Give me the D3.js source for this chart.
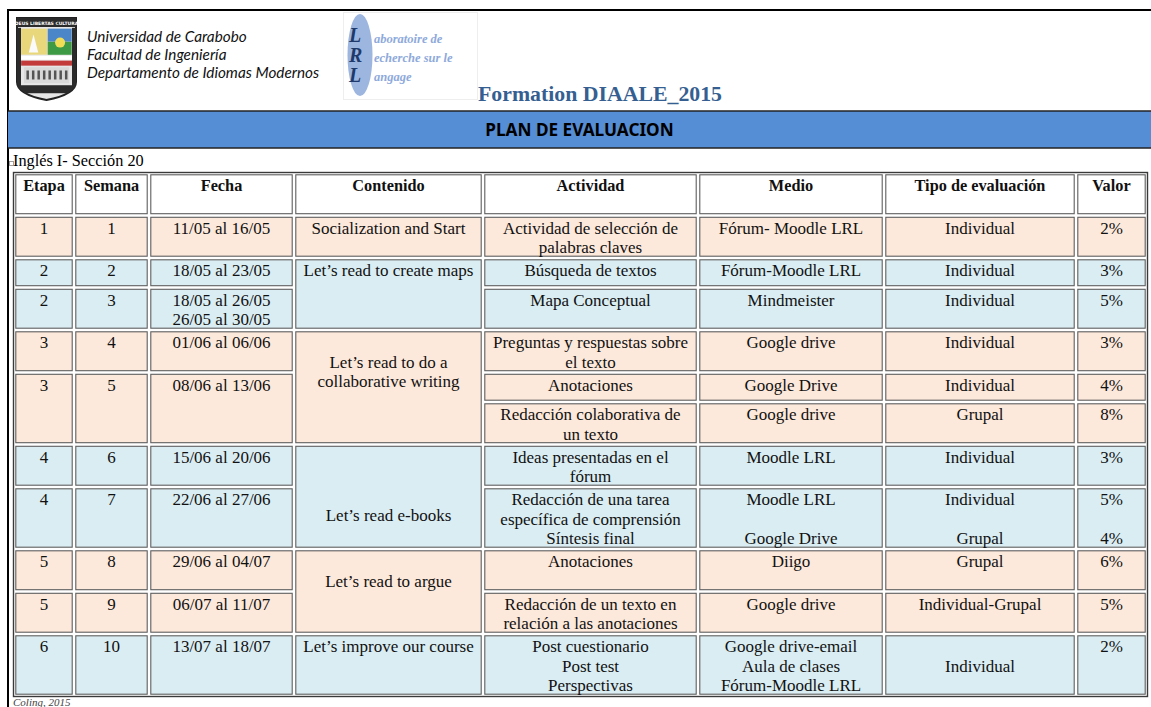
<!DOCTYPE html>
<html><head><meta charset="utf-8">
<script src="https://cdn.jsdelivr.net/npm/d3@7"></script>
<style>body{margin:0;background:#fff}svg{display:block}</style>
</head><body>
<svg id="c" width="1151" height="707"></svg>
<script>
// ---------- DATA ----------
const headers = ["Etapa","Semana","Fecha","Contenido","Actividad","Medio","Tipo de evaluación","Valor"];
const etapa   = ["1","2","2","3","3","4","4","5","5","6"];
const semana  = ["1","2","3","4","5","6","7","8","9","10"];
const fecha   = [["11/05 al 16/05"],["18/05 al 23/05"],["18/05 al 26/05","26/05 al 30/05"],["01/06 al 06/06"],["08/06 al 13/06"],["15/06 al 20/06"],["22/06 al 27/06"],["29/06 al 04/07"],["06/07 al 11/07"],["13/07 al 18/07"]];
const contenido = [["Socialization and Start"],["Let’s read to create maps"],["","Let’s read to do a","collaborative writing"],["","","","Let’s read e-books"],["","Let’s read to argue"],["Let’s improve our course"]];
const actividad = [["Actividad de selección de","palabras claves"],["Búsqueda de textos"],["Mapa Conceptual"],["Preguntas y respuestas sobre","el texto"],["Anotaciones"],["Redacción colaborativa de","un texto"],["Ideas presentadas en el","fórum"],["Redacción de una tarea","específica de comprensión","Síntesis final"],["Anotaciones"],["Redacción de un texto en","relación a las anotaciones"],["Post cuestionario","Post test","Perspectivas"]];
const medio = [["Fórum- Moodle LRL"],["Fórum-Moodle LRL"],["Mindmeister"],["Google drive"],["Google Drive"],["Google drive"],["Moodle LRL"],["Moodle LRL","","Google Drive"],["Diigo"],["Google drive"],["Google drive-email","Aula de clases","Fórum-Moodle LRL"]];
const tipo = [["Individual"],["Individual"],["Individual"],["Individual"],["Individual"],["Grupal"],["Individual"],["Individual","","Grupal"],["Grupal"],["Individual-Grupal"],["","Individual"]];
const valor = [["2%"],["3%"],["5%"],["3%"],["4%"],["8%"],["3%"],["5%","","4%"],["6%"],["5%"],["2%"]];
// grid-row spans (activity rows 1..11) for each week / content block
const weekSpan = [[1,1],[2,2],[3,3],[4,4],[5,6],[7,7],[8,8],[9,9],[10,10],[11,11]];
const contSpan = [[1,1],[2,3],[4,6],[7,8],[9,10],[11,11]];
const rowShade = ["h","o","b","b","o","o","o","b","b","o","o","b"];
const rowLines = [2,2,1,2,2,1,2,2,3,2,2,3];
const subtitle = "Inglés I- Sección 20";
const title = "Formation DIAALE_2015";
const banner = "PLAN DE EVALUACION";
const uniLines = ["Universidad de Carabobo","Facultad de Ingeniería","Departamento de Idiomas Modernos"];
const lrlLetters = ["L","R","L"];
const lrlWords = ["aboratoire de","echerche sur le","angage"];
const source = "Coling, 2015";

// ---------- LAYOUT ----------
const W = 1151, H = 707;
const svg = d3.select("#c");
const colW = [60,75,145,189,215,186,192,71];
const lineH = {1:29.5, 2:42.5, 3:62};
const fills = {h:"#ffffff", o:"#fde9db", b:"#daedf3"};
const serif = "'Liberation Serif','Times New Roman',serif";

const colEdges = d3.cumsum([0, ...colW]);
const x = d3.scaleLinear().domain([0, colEdges[colEdges.length-1]]).range([14, 1147]);
const rowEdges = d3.cumsum([0, ...rowLines.map(l => lineH[l])]);
const y = d3.scaleLinear().domain([0, rowEdges[rowEdges.length-1]]).range([173, 696]);

// page frame
svg.append("line").attr("x1",8).attr("x2",8).attr("y1",9).attr("y2",H).attr("stroke","#000").attr("stroke-width",2);
svg.append("line").attr("x1",8).attr("x2",W).attr("y1",10).attr("y2",10).attr("stroke","#000").attr("stroke-width",2);

// ---- University shield ----
const sh = svg.append("g");
const sx = d3.scaleLinear().domain([0,1]).range([17,76]);
const sy = d3.scaleLinear().domain([0,1]).range([18,100]);
const shieldPath = `M${sx(0)},${sy(0)} H${sx(1)} V${sy(0.78)} Q${sx(1)},${sy(0.93)} ${sx(0.5)},${sy(1)} Q${sx(0)},${sy(0.93)} ${sx(0)},${sy(0.78)} Z`;
svg.append("clipPath").attr("id","shc").append("path").attr("d",shieldPath);
sh.append("path").attr("d",shieldPath).attr("fill","#e6e6e6").attr("stroke","#222").attr("stroke-width",2);
const shIn = sh.append("g").attr("clip-path","url(#shc)");
shIn.append("rect").attr("x",sx(0)).attr("y",sy(0)).attr("width",59).attr("height",9).attr("fill","#2b2b2b");
sh.append("text").attr("x",sx(0.5)).attr("y",sy(0.085)).attr("text-anchor","middle").attr("font-size",4.5).attr("font-family","DejaVu Sans").attr("font-weight","bold").attr("fill","#fff").text("DEUS LIBERTAS CULTURA");
shIn.append("rect").attr("x",sx(0.07)).attr("y",sy(0.13)).attr("width",26).attr("height",26).attr("fill","#e9d77c");
shIn.append("rect").attr("x",sx(0.52)).attr("y",sy(0.13)).attr("width",24).attr("height",13).attr("fill","#4a86c8");
shIn.append("rect").attr("x",sx(0.52)).attr("y",sy(0.29)).attr("width",24).attr("height",13).attr("fill","#3f9a45");
shIn.append("circle").attr("cx",sx(0.73)).attr("cy",sy(0.3)).attr("r",5).attr("fill","#f2dd57");
shIn.append("path").attr("d",`M${sx(0.2)},${sy(0.42)} L${sx(0.28)},${sy(0.2)} L${sx(0.36)},${sy(0.42)} Z`).attr("fill","#fafafa");
shIn.append("rect").attr("x",sx(0.07)).attr("y",sy(0.46)).attr("width",51).attr("height",4).attr("fill","#fff");
shIn.append("rect").attr("x",sx(0.07)).attr("y",sy(0.52)).attr("width",51).attr("height",5).attr("fill","#c43b3b");
shIn.append("rect").attr("x",sx(0.12)).attr("y",sy(0.6)).attr("width",45).attr("height",16).attr("fill","#d9d9d9");
d3.range(8).forEach(i => shIn.append("rect").attr("x",sx(0.16)+i*5.5).attr("y",sy(0.64)).attr("width",2.5).attr("height",9).attr("fill","#555"));
shIn.append("rect").attr("x",sx(0)).attr("y",sy(0.82)).attr("width",59).attr("height",8).attr("fill","#2b2b2b");
shIn.append("rect").attr("x",sx(0)).attr("y",sy(0.12)).attr("width",4).attr("height",60).attr("fill","#2b2b2b");
shIn.append("rect").attr("x",sx(1)-4).attr("y",sy(0.12)).attr("width",4).attr("height",60).attr("fill","#2b2b2b");

// university text
svg.append("g").selectAll("text").data(uniLines).join("text")
  .attr("x",87).attr("y",(d,i)=>42+i*18)
  .attr("font-family","Lato, 'Open Sans', sans-serif").attr("font-style","italic").attr("font-size",15.3).attr("fill","#111")
  .text(d=>d);

// ---- LRL logo ----
svg.append("rect").attr("x",343.5).attr("y",12.5).attr("width",134).attr("height",87).attr("fill","none").attr("stroke","#eeeeee");
svg.append("ellipse").attr("cx",360).attr("cy",55).attr("rx",12.5).attr("ry",41).attr("fill","#9db6df");
svg.append("g").selectAll("text").data(lrlLetters).join("text")
  .attr("x",349).attr("y",(d,i)=>42+i*20)
  .attr("font-family",serif).attr("font-style","italic").attr("font-weight","bold").attr("font-size",20).attr("fill","#1f3a6b").text(d=>d);
svg.append("g").selectAll("text").data(lrlWords).join("text")
  .attr("x",374).attr("y",(d,i)=>43+i*19)
  .attr("font-family",serif).attr("font-style","italic").attr("font-weight","bold").attr("font-size",12.5).attr("fill","#8eaadb").text(d=>d);

// title
svg.append("text").attr("x",478).attr("y",101).attr("font-family",serif).attr("font-weight","bold").attr("font-size",21.8).attr("fill","#365f91").text(title);

// banner
svg.append("rect").attr("x",8).attr("y",111).attr("width",W-8).attr("height",37).attr("fill","#558ed5");
svg.append("line").attr("x1",8).attr("x2",W).attr("y1",111).attr("y2",111).attr("stroke","#222").attr("stroke-width",1.5);
svg.append("line").attr("x1",8).attr("x2",W).attr("y1",148).attr("y2",148).attr("stroke","#222").attr("stroke-width",1.5);
svg.append("text").attr("x",(8+W)/2).attr("y",130).attr("dy","0.35em").attr("text-anchor","middle")
  .attr("font-family","'Noto Sans', 'Open Sans', sans-serif").attr("font-weight","bold").attr("font-size",17.2).attr("fill","#000").text(banner);

// subtitle
svg.append("rect").attr("x",9.5).attr("y",161.5).attr("width",4).attr("height",4).attr("fill","#fff").attr("stroke","#888").attr("stroke-width",0.8);
svg.append("text").attr("x",13).attr("y",166).attr("font-family",serif).attr("font-size",16.3).attr("fill","#000").text(subtitle);

// ---------- TABLE CELLS ----------
const cells = [];
headers.forEach((h,c)=>cells.push({c, r0:0, r1:0, lines:[h], bold:true}));
weekSpan.forEach((s,i)=>{
  cells.push({c:0, r0:s[0], r1:s[1], lines:[etapa[i]]});
  cells.push({c:1, r0:s[0], r1:s[1], lines:[semana[i]]});
  cells.push({c:2, r0:s[0], r1:s[1], lines:fecha[i]});
});
contSpan.forEach((s,i)=>cells.push({c:3, r0:s[0], r1:s[1], lines:contenido[i]}));
[actividad, medio, tipo, valor].forEach((arr,k)=>arr.forEach((l,i)=>cells.push({c:4+k, r0:i+1, r1:i+1, lines:l})));

// outer table border
svg.append("rect").attr("x",x(0)-0.5).attr("y",y(0)-0.5).attr("width",x.range()[1]-x.range()[0]+1).attr("height",y.range()[1]-y.range()[0]+1)
  .attr("fill","#fff").attr("stroke","#3a3a3a").attr("stroke-width",1.4);

const g = svg.append("g");
const cg = g.selectAll("g.cell").data(cells).join("g").attr("class","cell");
cg.append("rect")
  .attr("x",d=>x(colEdges[d.c])+1.8).attr("y",d=>y(rowEdges[d.r0])+1.8)
  .attr("width",d=>x(colEdges[d.c+1])-x(colEdges[d.c])-3.6)
  .attr("height",d=>y(rowEdges[d.r1+1])-y(rowEdges[d.r0])-3.6)
  .attr("fill",d=>fills[rowShade[d.r0]]).attr("stroke","#5e5e5e").attr("stroke-width",1.1);
cg.each(function(d){
  const cx = (x(colEdges[d.c])+x(colEdges[d.c+1]))/2;
  const top = y(rowEdges[d.r0]);
  d3.select(this).selectAll("text").data(d.lines).join("text")
    .attr("x",cx).attr("y",(t,i)=>top+12.5+i*19.5).attr("dy","0.35em").attr("text-anchor","middle")
    .attr("font-family",serif).attr("font-size",d.bold?16.3:17).attr("font-weight",d.bold?"bold":"normal").attr("fill","#111")
    .text(t=>t);
});

// source
svg.append("text").attr("x",13).attr("y",706).attr("font-family",serif).attr("font-style","italic").attr("font-size",11).attr("fill","#444").text(source);
</script>
</body></html>
